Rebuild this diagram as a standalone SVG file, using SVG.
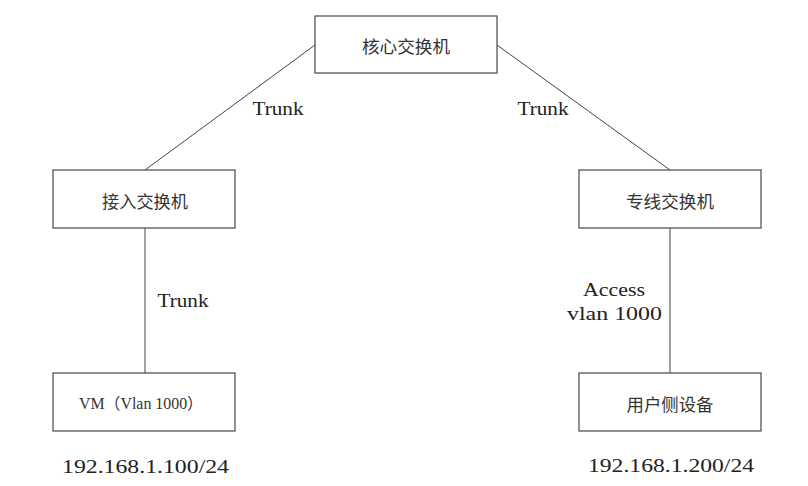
<svg xmlns="http://www.w3.org/2000/svg" width="808" height="486" viewBox="0 0 808 486">
<style>
.box{fill:#fff;stroke:#555;stroke-width:1.3}
.ln{stroke:#444;stroke-width:1;fill:none}
.cn{font-family:"Noto Sans CJK SC","Noto Sans",sans-serif;font-size:17px;fill:#333;text-anchor:middle;dominant-baseline:central}
.lt{font-family:"Liberation Serif","DejaVu Serif",serif;font-size:19px;fill:#222;text-anchor:middle;dominant-baseline:central}
.vm{font-family:"Liberation Serif","Noto Sans CJK SC",serif;font-size:16px;fill:#333;text-anchor:middle;dominant-baseline:central}
</style>
<rect width="808" height="486" fill="#fff"/>
<g id="connectors">
<line class="ln" x1="315" y1="45" x2="145" y2="170"/>
<line class="ln" x1="497" y1="45" x2="670" y2="170"/>
<line class="ln" x1="145" y1="228" x2="145" y2="373"/>
<line class="ln" x1="670" y1="228" x2="670" y2="373"/>
<text class="lt" x="278" y="108" textLength="51" lengthAdjust="spacingAndGlyphs">Trunk</text>
<text class="lt" x="543" y="108" textLength="51" lengthAdjust="spacingAndGlyphs">Trunk</text>
<text class="lt" x="183" y="300" textLength="51" lengthAdjust="spacingAndGlyphs">Trunk</text>
<text class="lt" x="614" y="289" textLength="62" lengthAdjust="spacingAndGlyphs">Access</text>
<text class="lt" x="614.5" y="313" textLength="95" lengthAdjust="spacingAndGlyphs">vlan 1000</text>
</g>
<g id="core">
<rect class="box" x="315" y="16" width="182" height="57"/>
<text class="cn" x="406" y="45" textLength="88" lengthAdjust="spacingAndGlyphs">核心交换机</text>
</g>
<g id="access">
<rect class="box" x="53" y="170" width="182" height="58"/>
<text class="cn" x="145" y="200" textLength="86" lengthAdjust="spacingAndGlyphs">接入交换机</text>
</g>
<g id="line-switch">
<rect class="box" x="579" y="170" width="182" height="58"/>
<text class="cn" x="670" y="200" textLength="88" lengthAdjust="spacingAndGlyphs">专线交换机</text>
</g>
<g id="vm">
<rect class="box" x="53" y="373" width="182" height="58"/>
<text class="vm" x="141" y="403" textLength="124" lengthAdjust="spacingAndGlyphs">VM（Vlan 1000）</text>
<text class="lt" x="145.5" y="466" textLength="167" lengthAdjust="spacingAndGlyphs">192.168.1.100/24</text>
</g>
<g id="user-device">
<rect class="box" x="579" y="373" width="182" height="58"/>
<text class="cn" x="670" y="403" textLength="87" lengthAdjust="spacingAndGlyphs">用户侧设备</text>
<text class="lt" x="671" y="465" textLength="166" lengthAdjust="spacingAndGlyphs">192.168.1.200/24</text>
</g>
</svg>
